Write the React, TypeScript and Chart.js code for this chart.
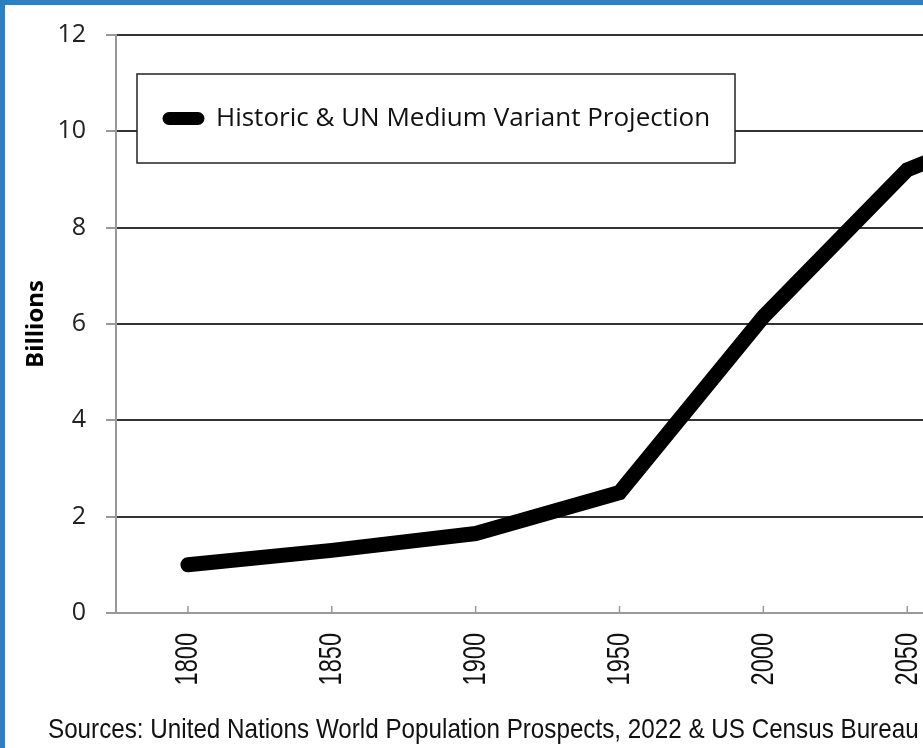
import { useEffect, useRef } from 'react';
import { Chart, registerables } from 'chart.js';

Chart.register(...registerables);

const years = ['1800', '1850', '1900', '1950', '2000', '2050', '2100'];
const population = [1.0, 1.3, 1.65, 2.5, 6.15, 9.2, 10.4];
const seriesLabel = 'Historic & UN Medium Variant Projection';
const yAxisTitle = 'Billions';
const sourceNote = 'Sources: United Nations World Population Prospects, 2022 & US Census Bureau';
const yMin = 0;
const yMax = 12;
const yStep = 2;

const narrowFont = '"Liberation Sans", Arial, sans-serif';

const overlayPlugin = {
  id: 'overlay',
  afterDraw(chart: any) {
    const { ctx, chartArea, scales } = chart;
    const xs = scales.x;
    ctx.save();
    // inward x tick marks + condensed rotated labels
    xs.ticks.forEach((t: any, i: number) => {
      const px = xs.getPixelForTick(i);
      ctx.strokeStyle = '#999';
      ctx.lineWidth = 1.5;
      ctx.beginPath();
      ctx.moveTo(px, chartArea.bottom);
      ctx.lineTo(px, chartArea.bottom - 7);
      ctx.stroke();
      const label = xs.getLabelForValue(t.value);
      ctx.save();
      ctx.translate(px, chartArea.bottom + 20);
      ctx.rotate(-Math.PI / 2);
      ctx.scale(0.76, 1);
      ctx.font = '31px ' + narrowFont;
      ctx.fillStyle = '#111';
      ctx.textAlign = 'right';
      ctx.textBaseline = 'middle';
      ctx.fillText(label, 0, 1);
      ctx.restore();
    });
    // legend box
    const bx = chartArea.left + 21;
    const by = chartArea.top + 39;
    const bw = 598;
    const bh = 89;
    ctx.fillStyle = '#fff';
    ctx.fillRect(bx, by, bw, bh);
    ctx.strokeStyle = '#222';
    ctx.lineWidth = 1.5;
    ctx.strokeRect(bx, by, bw, bh);
    const ds = chart.data.datasets[0];
    const cy = by + bh / 2;
    ctx.strokeStyle = ds.borderColor;
    ctx.lineWidth = 13;
    ctx.lineCap = 'round';
    ctx.beginPath();
    ctx.moveTo(bx + 32, cy);
    ctx.lineTo(bx + 61, cy);
    ctx.stroke();
    ctx.fillStyle = '#111';
    ctx.font = '26px "Open Sans"';
    ctx.textBaseline = 'middle';
    ctx.textAlign = 'left';
    ctx.fillText(ds.label, bx + 79, cy);
    // source note (condensed)
    ctx.save();
    ctx.translate(48, 738);
    ctx.scale(0.865, 1);
    ctx.font = '28px ' + narrowFont;
    ctx.textBaseline = 'alphabetic';
    ctx.textAlign = 'left';
    ctx.fillStyle = '#111';
    ctx.fillText(sourceNote, 0, 0);
    ctx.restore();
    ctx.restore();
  },
};

export default function App() {
  const canvasRef = useRef<HTMLCanvasElement>(null);

  useEffect(() => {
    const canvas = canvasRef.current;
    if (!canvas) return;
    const chart = new Chart(canvas, {
      type: 'line',
      data: {
        labels: years,
        datasets: [
          {
            label: seriesLabel,
            data: population,
            borderColor: '#000',
            backgroundColor: '#000',
            borderWidth: 15,
            borderCapStyle: 'round',
            borderJoinStyle: 'miter',
            pointRadius: 0,
            tension: 0,
          },
        ],
      },
      options: {
        responsive: false,
        animation: false,
        devicePixelRatio: 1,
        layout: { padding: { left: 0, top: 32, right: 7, bottom: 0 } },
        plugins: {
          legend: { display: false },
          tooltip: { enabled: false },
        },
        scales: {
          x: {
            type: 'category',
            offset: true,
            grid: { display: false, drawTicks: false },
            border: { display: true, color: '#999', width: 2 },
            ticks: { display: false },
            afterFit: (s: any) => {
              s.height = 135;
            },
          },
          y: {
            min: yMin,
            max: yMax,
            ticks: {
              stepSize: yStep,
              padding: 20,
              color: '#222',
              font: { family: '"Open Sans"', size: 25 },
            },
            grid: {
              color: (c: any) => (c.tick && c.tick.value === 0 ? '#999' : '#333'),
              lineWidth: 2,
              tickColor: '#999',
              tickLength: 10,
            },
            border: { display: true, color: '#999', width: 2 },
            title: {
              display: true,
              text: yAxisTitle,
              color: '#000',
              font: { family: '"Open Sans"', size: 24, weight: 'bold' },
              padding: { top: 22, bottom: 0 },
            },
            afterFit: (s: any) => {
              s.width = 116;
            },
          },
        },
      },
      plugins: [overlayPlugin],
    } as any);
    return () => chart.destroy();
  }, []);

  return (
    <div
      style={{
        position: 'fixed',
        left: 0,
        top: 0,
        width: 923,
        height: 748,
        overflow: 'hidden',
        background: '#fff',
      }}
    >
      <canvas ref={canvasRef} width={1130} height={748} style={{ display: 'block' }} />
      <div style={{ position: 'absolute', left: 0, top: 0, width: 923, height: 5, background: '#2e7fc0' }} />
      <div style={{ position: 'absolute', left: 0, top: 0, width: 5, height: 748, background: '#2e7fc0' }} />
    </div>
  );
}
